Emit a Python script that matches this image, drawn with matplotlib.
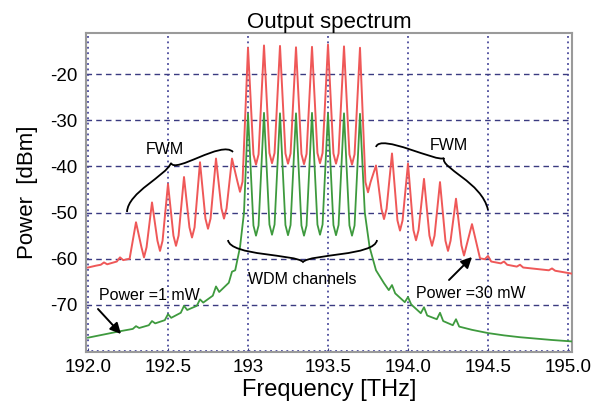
import matplotlib
matplotlib.use("Agg")
import matplotlib.pyplot as plt
from matplotlib.path import Path
from matplotlib.patches import PathPatch

plt.rcParams['font.family'] = ['Liberation Sans', 'DejaVu Sans']

# ---------------- data ----------------
channels_f = [193.0, 193.1, 193.2, 193.3, 193.4, 193.5, 193.6, 193.7]
red_ch_peak = [-14.3, -13.8, -13.9, -14.2, -14.1, -13.6, -14.0, -14.3]
red_ch_valley = [-39.6, -39.3, -39.4, -39.5, -39.3, -39.4, -39.6]
green_ch_peak = [-28.6, -28.4, -28.5, -28.5, -28.4, -28.5, -28.5, -28.6]
green_ch_valley = [-55.0, -54.8, -54.9, -55.0, -54.8, -54.9, -55.0]

fwm_left_f = [192.3, 192.4, 192.5, 192.6, 192.7, 192.8, 192.9]
red_fwm_left_peak = [-52.1, -47.8, -43.8, -42.3, -39.1, -38.3, -38.3]
red_fwm_left_valley = [-59.7, -58.3, -57.2, -55.4, -53.5, -51.3, -45.5]   # after each peak

fwm_right_f = [193.8, 193.9, 194.0, 194.1, 194.2, 194.3, 194.4]
red_fwm_right_valley = [-45.6, -51.4, -53.9, -56.0, -57.2, -58.3, -59.3]  # before each peak
red_fwm_right_peak = [-39.8, -37.2, -39.4, -42.7, -43.4, -47.0, -52.5]

red_left_tail_f = [192.00, 192.05, 192.08, 192.10, 192.12, 192.18, 192.20, 192.22, 192.26]
red_left_tail_p = [-61.9, -61.5, -61.3, -60.8, -61.2, -60.6, -59.7, -60.3, -60.0]
red_right_tail_f = [194.45, 194.48, 194.50, 194.52, 194.58, 194.60, 194.62, 194.68,
                    194.70, 194.72, 194.80, 194.88, 194.90, 194.92, 195.02]
red_right_tail_p = [-59.9, -60.1, -59.4, -60.6, -61.0, -60.6, -61.3, -61.7,
                    -61.3, -61.9, -62.2, -62.5, -62.1, -62.6, -63.2]

green_left_tail_f = [192.00, 192.10, 192.20, 192.28, 192.30, 192.32, 192.38, 192.40, 192.42,
                     192.48, 192.50, 192.52, 192.58, 192.60, 192.62, 192.68, 192.70, 192.72,
                     192.78, 192.80, 192.82, 192.88, 192.90, 192.92, 192.95, 192.975]
green_left_tail_p = [-77.1, -76.4, -75.7, -75.2, -74.6, -75.0, -74.4, -73.5, -74.0,
                     -73.3, -72.0, -72.8, -71.7, -70.2, -71.1, -70.2, -68.8, -69.5,
                     -68.0, -66.0, -67.2, -65.2, -62.8, -62.5, -57.5, -50.0]
green_right_tail_f = [193.73, 193.76, 193.80, 193.85, 193.88, 193.90, 193.92, 193.98, 194.00,
                      194.02, 194.08, 194.10, 194.12, 194.18, 194.20, 194.22, 194.28, 194.30,
                      194.32, 194.40, 194.50, 194.60, 194.70, 194.80, 194.90, 195.02]
green_right_tail_p = [-50.0, -57.5, -62.5, -65.3, -66.8, -65.7, -67.5, -69.4, -68.3,
                      -69.9, -71.8, -70.5, -72.3, -73.1, -71.7, -73.5, -74.4, -73.1,
                      -74.7, -75.4, -76.1, -76.6, -77.0, -77.3, -77.6, -77.9]

x_ticks = [192.0, 192.5, 193.0, 193.5, 194.0, 194.5, 195.0]
x_tick_labels = ["192.0", "192.5", "193", "193.5", "194.0", "194.5", "195.0"]
y_ticks = [-70, -60, -50, -40, -30, -20]
y_tick_labels = ["-70", "-60", "-50", "-40", "-30", "-20"]

# ---------------- build curves ----------------
VW = 0.016     # half-width of the rounded valley floor (style)
VRISE = 2.2    # valley rounding (style)


def add_valleys(pts, centers, levels):
    for c, v in zip(centers, levels):
        pts.append((c - VW, v + VRISE))
        pts.append((c, v))
        pts.append((c + VW, v + VRISE))


red_pts = list(zip(red_left_tail_f, red_left_tail_p))
red_pts += list(zip(fwm_left_f, red_fwm_left_peak))
add_valleys(red_pts, [f + 0.05 for f in fwm_left_f], red_fwm_left_valley)
red_pts += list(zip(channels_f, red_ch_peak))
add_valleys(red_pts, [(a + b) / 2 for a, b in zip(channels_f[:-1], channels_f[1:])], red_ch_valley)
add_valleys(red_pts, [f - 0.05 for f in fwm_right_f], red_fwm_right_valley)
red_pts += list(zip(fwm_right_f, red_fwm_right_peak))
red_pts += list(zip(red_right_tail_f, red_right_tail_p))
red_pts.sort()

green_pts = list(zip(green_left_tail_f, green_left_tail_p))
green_pts += list(zip(channels_f, green_ch_peak))
add_valleys(green_pts, [(a + b) / 2 for a, b in zip(channels_f[:-1], channels_f[1:])], green_ch_valley)
green_pts += list(zip(green_right_tail_f, green_right_tail_p))
green_pts.sort()

# ---------------- figure ----------------
W, H = 602, 412
fig = plt.figure(figsize=(W / 100, H / 100), dpi=100)
ax = fig.add_axes([86 / W, 1 - 352 / H, (572 - 86) / W, (352 - 33) / H])

ax.set_xlim(191.9875, 195.025)
ax.set_ylim(-80.2, -11.1)

ax.plot([p[0] for p in red_pts], [p[1] for p in red_pts], color='#ef5858', lw=1.4,
        zorder=3, solid_joinstyle='round')
ax.plot([p[0] for p in green_pts], [p[1] for p in green_pts], color='#3e9a3e', lw=1.3,
        zorder=4, solid_joinstyle='round')

ax.set_xticks(x_ticks)
ax.set_xticklabels(x_tick_labels)
ax.set_yticks(y_ticks)
ax.set_yticklabels(y_tick_labels)
ax.tick_params(axis='both', labelsize=13.5, length=3, direction='in', color='#40408a')
ax.tick_params(axis='x', pad=5)
ax.tick_params(axis='y', pad=6)

ax.set_axisbelow(True)
ax.grid(axis='x', linestyle=(0, (1, 2)), color='#4a4a9c', lw=1.3)
ax.grid(axis='y', linestyle=(0, (4, 3)), color='#3a3a80', lw=1.0)
ax.axhline(-80.0, linestyle=(0, (1, 2)), color='#4a4a9c', lw=1.3, zorder=1)
for s in ax.spines.values():
    s.set_color('#9a9a9a')
    s.set_linewidth(1.5)

ax.set_title("Output spectrum", fontsize=16, pad=3)
ax.set_xlabel("Frequency [THz]", fontsize=17, labelpad=2)
ax.set_ylabel("Power  [dBm]", fontsize=16, labelpad=9)


def px(x, y):
    return (x / W, 1 - y / H)


def brace(vs):
    verts = [px(*v) for v in vs]
    codes = [Path.MOVETO] + [Path.CURVE4] * (len(verts) - 1)
    patch = PathPatch(Path(verts, codes), facecolor='none', edgecolor='black', lw=1.3,
                      transform=fig.transFigure, clip_on=False, zorder=6)
    fig.add_artist(patch)


brace([(127, 212), (128, 192), (166, 176), (171, 163),
       (175, 174), (222, 140), (233, 152)])
brace([(376, 147), (380, 133), (438, 163), (444, 158),
       (440, 168), (482, 182), (488, 210)])
brace([(228, 240), (230, 256), (296, 254), (303, 262),
       (310, 254), (375, 256), (377, 240)])

txt_kw = dict(transform=fig.transFigure, fontsize=11.5, ha='center', va='center', zorder=7)
fig.text(*px(165, 149), "FWM", **txt_kw)
fig.text(*px(449, 146), "FWM", **txt_kw)
fig.text(*px(302, 280), "WDM channels", **txt_kw)
fig.text(*px(149, 295), "Power =1 mW", **txt_kw)
fig.text(*px(471, 293), "Power =30 mW", **txt_kw)

arrow_kw = dict(arrowstyle='-|>', color='black', lw=1.4, mutation_scale=16, shrinkA=0, shrinkB=0)
ax.annotate("", xy=px(121, 334), xytext=px(98, 309), xycoords='figure fraction',
            textcoords='figure fraction', arrowprops=arrow_kw, zorder=7)
ax.annotate("", xy=px(472, 257), xytext=px(449, 280), xycoords='figure fraction',
            textcoords='figure fraction', arrowprops=arrow_kw, zorder=7)

fig.savefig("out.png", dpi=100, facecolor='white')
